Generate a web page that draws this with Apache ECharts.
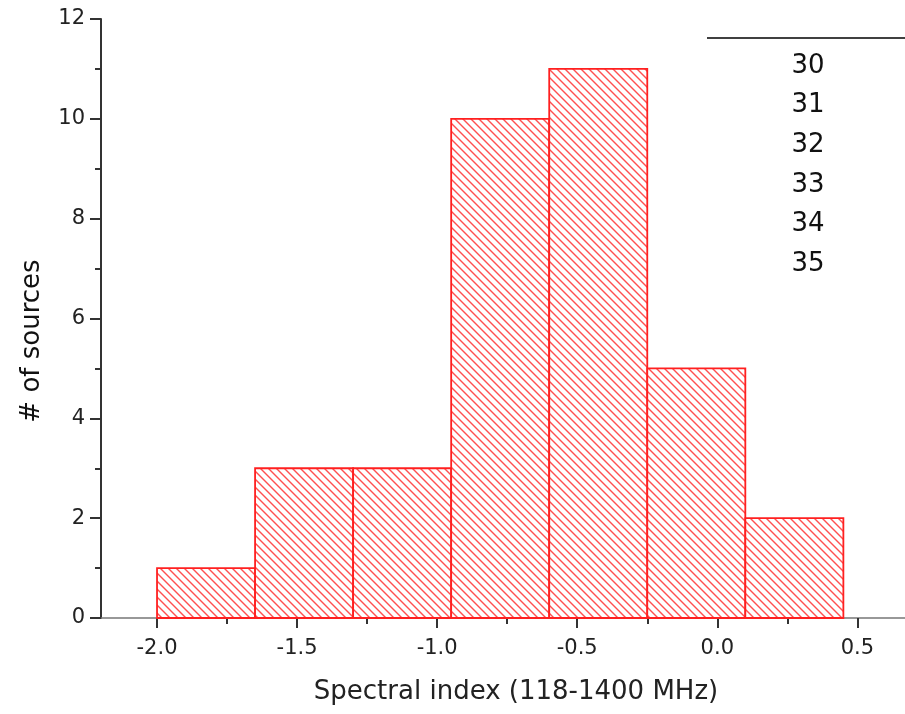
<!DOCTYPE html>
<html>
<head>
<meta charset="utf-8">
<script src="https://cdn.jsdelivr.net/npm/echarts@6/dist/echarts.min.js"></script>
<style>
html, body { margin: 0; padding: 0; background: #fff; }
#main { width: 905px; height: 714px; }
</style>
</head>
<body>
<div id="main"></div>
<script>
// histogram bins (spectral index) and number of sources per bin
var binStart = [-2.0, -1.65, -1.3, -0.95, -0.6, -0.25, 0.1];
var binEnd = [-1.65, -1.3, -0.95, -0.6, -0.25, 0.1, 0.45];
var counts = [1, 3, 3, 10, 11, 5, 2];
// tick labels on the x axis, minor ticks between them
var xMajorTicks = [-2.0, -1.5, -1.0, -0.5, 0.0, 0.5];
var xMinorTicks = [-1.75, -1.25, -0.75, -0.25, 0.25];
// the odd legend box in the corner
var legendLabels = ['30', '31', '32', '33', '34', '35'];

var FONT = 'DejaVu Sans';

// hatch pattern: thin red lines going down to the right
function makeHatch() {
	var s = 8;
	var cv = document.createElement('canvas');
	cv.width = s;
	cv.height = s;
	var ctx = cv.getContext('2d');
	ctx.fillStyle = '#ffffff';
	ctx.fillRect(0, 0, s, s);
	ctx.strokeStyle = '#ff5050';
	ctx.lineWidth = 1.4;
	for (var k = -s; k <= s; k += s) {
		ctx.beginPath();
		ctx.moveTo(k - 1, -1);
		ctx.lineTo(k + s + 1, s + 1);
		ctx.stroke();
	}
	return cv;
}
var hatch = makeHatch();

var histData = [];
for (var i = 0; i < counts.length; i++) {
	histData.push([binStart[i], binEnd[i], counts[i]]);
}

var legendGraphics = [{
	type : 'line',
	shape : { x1 : 707, y1 : 38, x2 : 905, y2 : 38 },
	style : { stroke : '#000', lineWidth : 1.5 }
}];
for (var j = 0; j < legendLabels.length; j++) {
	legendGraphics.push({
		type : 'text',
		x : 808,
		y : 66 + j * 39.6,
		style : {
			text : legendLabels[j],
			font : '26px "' + FONT + '"',
			fill : '#111',
			align : 'center',
			verticalAlign : 'middle'
		}
	});
}

var chart = echarts.init(document.getElementById('main'));
var option = {
	animation : false,
	backgroundColor : '#fff',
	grid : {
		left : 101,
		right : 0,
		top : 19,
		bottom : 96
	},
	xAxis : [ {
		type : 'value',
		min : -2.2,
		max : 0.67,
		name : 'Spectral index (118-1400 MHz)',
		nameLocation : 'middle',
		nameGap : 61,
		nameTextStyle : {
			fontFamily : FONT,
			fontSize : 26,
			color : '#222',
			padding : [ 0, 0, 0, 26 ]
		},
		axisLine : {
			onZero : false,
			lineStyle : { color : '#777', width : 1.5 }
		},
		axisTick : {
			show : true,
			length : 10,
			customValues : xMajorTicks,
			lineStyle : { color : '#333', width : 2 }
		},
		axisLabel : {
			customValues : xMajorTicks,
			margin : 20,
			fontFamily : FONT,
			fontSize : 21,
			color : '#222',
			formatter : function(v) {
				return v.toFixed(1);
			}
		},
		splitLine : { show : false }
	}, {
		// only carries the minor ticks
		type : 'value',
		position : 'bottom',
		min : -2.2,
		max : 0.67,
		axisLine : { show : false, onZero : false },
		axisTick : {
			show : true,
			length : 6,
			customValues : xMinorTicks,
			lineStyle : { color : '#333', width : 2 }
		},
		axisLabel : { show : false },
		splitLine : { show : false }
	} ],
	yAxis : {
		type : 'value',
		min : 0,
		max : 12,
		interval : 2,
		name : '# of sources',
		nameLocation : 'middle',
		nameGap : 56,
		nameTextStyle : {
			fontFamily : FONT,
			fontSize : 26,
			color : '#111',
			padding : [ 0, 45, 0, 0 ]
		},
		axisLine : {
			show : true,
			onZero : false,
			lineStyle : { color : '#333', width : 2 }
		},
		axisTick : {
			length : 11,
			lineStyle : { color : '#333', width : 2 }
		},
		minorTick : {
			show : true,
			splitNumber : 2,
			length : 6,
			lineStyle : { color : '#333', width : 2 }
		},
		axisLabel : {
			margin : 16,
			fontFamily : FONT,
			fontSize : 21,
			color : '#222'
		},
		splitLine : { show : false }
	},
	graphic : legendGraphics,
	series : [ {
		type : 'custom',
		xAxisIndex : 0,
		data : histData,
		renderItem : function(params, api) {
			var p0 = api.coord([ api.value(0), api.value(2) ]);
			var p1 = api.coord([ api.value(1), 0 ]);
			return {
				type : 'rect',
				shape : {
					x : p0[0],
					y : p0[1],
					width : p1[0] - p0[0],
					height : p1[1] - p0[1]
				},
				style : {
					fill : { type : 'pattern', image : hatch, repeat : 'repeat' },
					stroke : '#ff2020',
					lineWidth : 1.8
				}
			};
		}
	} ]
};
chart.setOption(option);
</script>
</body>
</html>
